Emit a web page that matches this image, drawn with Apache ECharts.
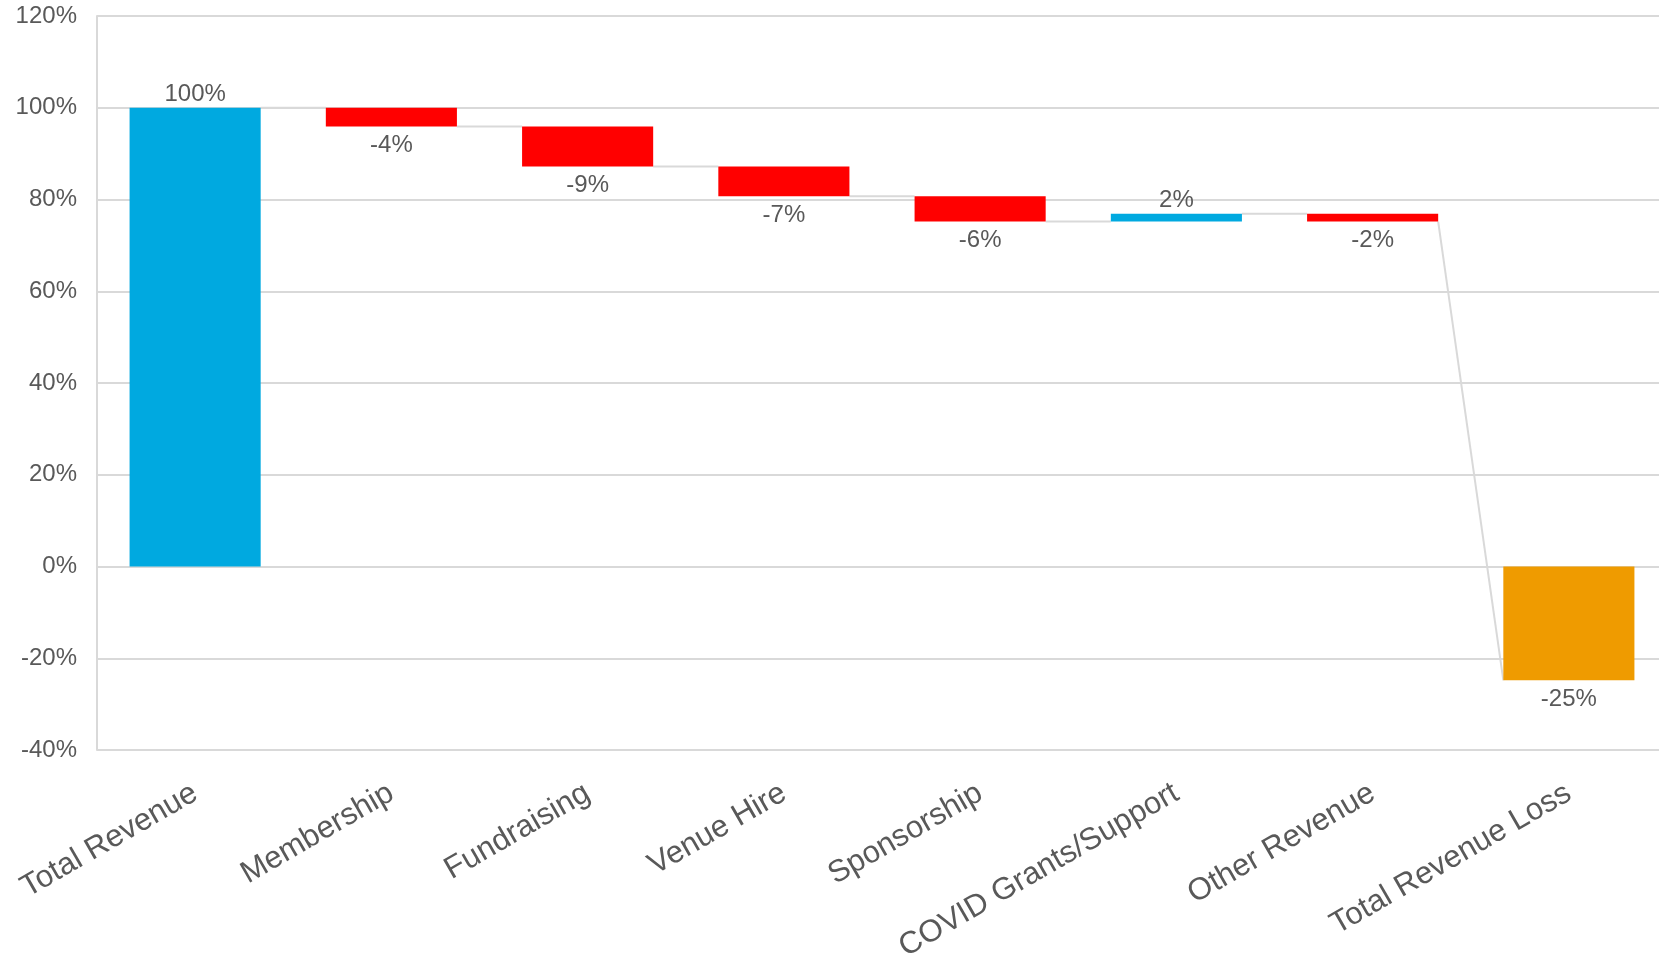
<!DOCTYPE html>
<html>
<head>
<meta charset="utf-8">
<title>Revenue waterfall</title>
<script src="https://cdn.jsdelivr.net/npm/echarts@6/dist/echarts.min.js"></script>
<style>
  html, body { margin: 0; padding: 0; background: #fff; }
  #myChart { width: 1659px; height: 957px; }
</style>
</head>
<body>
<div id="myChart"></div>
<script>
// categories and % change
const categories = ['Total Revenue', 'Membership', 'Fundraising', 'Venue Hire',
  'Sponsorship', 'COVID Grants/Support', 'Other Revenue', 'Total Revenue Loss'];
const changes = [100, -4.1, -8.7, -6.5, -5.5, 1.7, -1.7, -24.8];
const isTotal = [true, false, false, false, false, false, false, true];
const yTicks = { min: -40, max: 120, step: 20 };

const BLUE = '#00A9E0', RED = '#FF0000', ORANGE = '#EF9B00';
const TEXT = '#595959', GRID = '#D9D9D9';
const FONT = '"Liberation Sans", Arial, sans-serif';

// running totals -> start / end of each bar
let starts = [], ends = [], run = 0;
changes.forEach((v, i) => {
  if (isTotal[i]) { starts.push(0); ends.push(v); run = v; }
  else { starts.push(run); run = run + v; ends.push(run); }
});

let base = [], delta = [];
changes.forEach((v, i) => {
  let lo = Math.min(starts[i], ends[i]), hi = Math.max(starts[i], ends[i]);
  let color = isTotal[i] ? (i === 0 ? BLUE : ORANGE) : (v > 0 ? BLUE : RED);
  let lbl = { show: true, position: v > 0 ? 'top' : 'bottom', distance: v > 0 ? 1 : 7 };
  if (lo >= 0) {
    base.push(lo);
    delta.push({ value: hi - lo, itemStyle: { color: color }, label: lbl, raw: v });
  } else {
    base.push(hi);
    delta.push({ value: lo - hi, itemStyle: { color: color }, label: lbl, raw: v });
  }
});

// connector segments: end of bar i -> start (or value of a total) of bar i+1
let links = [];
for (let i = 0; i < categories.length - 1; i++) {
  links.push([i, ends[i], isTotal[i + 1] ? ends[i + 1] : starts[i + 1]]);
}

const BAR_W = 0.668;

let myChart = echarts.init(document.getElementById('myChart'));
let option = {
  animation: false,
  textStyle: { fontFamily: FONT },
  grid: { left: 97, top: 16, right: -8, bottom: 207, containLabel: false, outerBoundsMode: 'none' },
  xAxis: {
    type: 'category',
    data: categories,
    axisLine: { show: false },
    axisTick: { show: false },
    axisLabel: {
      interval: 0, rotate: 30, margin: 41,
      fontSize: 31, color: TEXT, fontFamily: FONT
    }
  },
  yAxis: {
    type: 'value',
    min: yTicks.min, max: yTicks.max, interval: yTicks.step,
    axisLine: { show: true, lineStyle: { color: GRID, width: 2 } },
    axisTick: { show: false },
    axisLabel: { formatter: '{value}%', fontSize: 24, color: TEXT, margin: 20, fontFamily: FONT, padding: [3, 0, 0, 0] },
    splitLine: { lineStyle: { color: GRID, width: 2 } }
  },
  series: [
    {
      type: 'custom',
      silent: true,
      z: 1,
      data: links,
      renderItem: function (params, api) {
        let i = api.value(0);
        let half = api.size([1, 0])[0] * BAR_W / 2;
        let p1 = api.coord([i, api.value(1)]);
        let p2 = api.coord([i + 1, api.value(2)]);
        return {
          type: 'line',
          shape: { x1: p1[0] + half, y1: p1[1], x2: p2[0] - half, y2: p2[1] },
          style: { stroke: GRID, lineWidth: 2 }
        };
      }
    },
    {
      name: 'base',
      type: 'bar',
      stack: 'wf',
      barWidth: (BAR_W * 100) + '%',
      itemStyle: { color: 'transparent' },
      silent: true,
      z: 2,
      data: base
    },
    {
      name: 'change',
      type: 'bar',
      stack: 'wf',
      barWidth: (BAR_W * 100) + '%',
      z: 3,
      label: {
        fontSize: 24, color: TEXT, fontFamily: FONT,
        formatter: function (p) {
          let r = p.data.raw;
          return (r < 0 ? '-' : '') + Math.round(Math.abs(r)) + '%';
        }
      },
      data: delta
    }
  ]
};
myChart.setOption(option);
</script>
</body>
</html>
